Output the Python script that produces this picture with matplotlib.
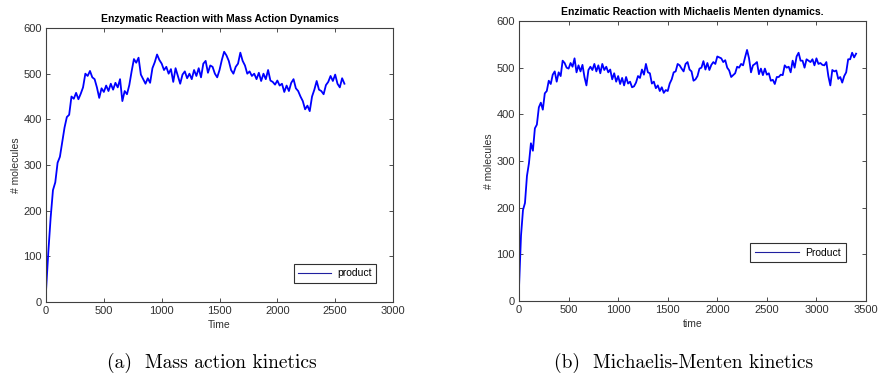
import matplotlib
matplotlib.use("Agg")
from matplotlib import pyplot as plt

# mass action run (time, # product molecules)
t_mass = [0, 20, 40, 60, 80, 100, 120, 140, 160, 180,
          200, 220, 240, 260, 280, 300, 320, 340, 360, 380,
          400, 420, 440, 460, 480, 500, 520, 540, 560, 580,
          600, 620, 640, 660, 680, 700, 720, 740, 760, 780,
          800, 820, 840, 860, 880, 900, 920, 940, 960, 980,
          1000, 1020, 1040, 1060, 1080, 1100, 1120, 1140, 1160, 1180,
          1200, 1220, 1240, 1260, 1280, 1300, 1320, 1340, 1360, 1380,
          1400, 1420, 1440, 1460, 1480, 1500, 1520, 1540, 1560, 1580,
          1600, 1620, 1640, 1660, 1680, 1700, 1720, 1740, 1760, 1780,
          1800, 1820, 1840, 1860, 1880, 1900, 1920, 1940, 1960, 1980,
          2000, 2020, 2040, 2060, 2080, 2100, 2120, 2140, 2160, 2180,
          2200, 2220, 2240, 2260, 2280, 2300, 2320, 2340, 2360, 2380,
          2400, 2420, 2440, 2460, 2480, 2500, 2520, 2540, 2560, 2580]
n_mass = [25, 110, 185, 245, 262, 305, 318, 350, 382, 405,
          410, 450, 445, 458, 444, 456, 470, 500, 495, 506,
          492, 488, 470, 447, 468, 460, 474, 462, 478, 465,
          480, 470, 488, 440, 462, 455, 475, 505, 532, 524,
          535, 498, 488, 478, 490, 480, 512, 525, 542, 530,
          522, 508, 515, 500, 510, 482, 512, 495, 478, 498,
          505, 490, 500, 488, 508, 495, 512, 492, 522, 528,
          502, 518, 515, 500, 492, 508, 530, 548, 540, 528,
          508, 500, 515, 522, 546, 528, 518, 500, 505, 495,
          500, 488, 502, 484, 500, 488, 508, 485, 482, 476,
          485, 474, 478, 460, 474, 462, 480, 488, 468, 462,
          450, 440, 422, 430, 418, 450, 465, 484, 465, 462,
          455, 475, 482, 495, 484, 498, 478, 470, 490, 478]

# michaelis-menten run
t_mm = [0, 20, 40, 60, 80, 100, 120, 140, 160, 180,
        200, 220, 240, 260, 280, 300, 320, 340, 360, 380,
        400, 420, 440, 460, 480, 500, 520, 540, 560, 580,
        600, 620, 640, 660, 680, 700, 720, 740, 760, 780,
        800, 820, 840, 860, 880, 900, 920, 940, 960, 980,
        1000, 1020, 1040, 1060, 1080, 1100, 1120, 1140, 1160, 1180,
        1200, 1220, 1240, 1260, 1280, 1300, 1320, 1340, 1360, 1380,
        1400, 1420, 1440, 1460, 1480, 1500, 1520, 1540, 1560, 1580,
        1600, 1620, 1640, 1660, 1680, 1700, 1720, 1740, 1760, 1780,
        1800, 1820, 1840, 1860, 1880, 1900, 1920, 1940, 1960, 1980,
        2000, 2020, 2040, 2060, 2080, 2100, 2120, 2140, 2160, 2180,
        2200, 2220, 2240, 2260, 2280, 2300, 2320, 2340, 2360, 2380,
        2400, 2420, 2440, 2460, 2480, 2500, 2520, 2540, 2560, 2580,
        2600, 2620, 2640, 2660, 2680, 2700, 2720, 2740, 2760, 2780,
        2800, 2820, 2840, 2860, 2880, 2900, 2920, 2940, 2960, 2980,
        3000, 3020, 3040, 3060, 3080, 3100, 3120, 3140, 3160, 3180,
        3200, 3220, 3240, 3260, 3280, 3300, 3320, 3340, 3360, 3380,
        3400]
n_mm = [30, 140, 195, 210, 268, 295, 338, 322, 370, 378,
        415, 425, 410, 445, 450, 472, 465, 485, 492, 470,
        490, 482, 515, 510, 500, 498, 510, 502, 520, 490,
        505, 492, 506, 480, 462, 495, 502, 495, 508, 492,
        505, 488, 508, 495, 502, 490, 496, 475, 488, 470,
        482, 465, 478, 462, 480, 466, 470, 458, 460, 468,
        482, 478, 496, 485, 508, 490, 488, 466, 470, 456,
        462, 450, 458, 446, 452, 450, 466, 475, 490, 492,
        508, 505, 498, 492, 508, 512, 496, 492, 472, 475,
        482, 498, 500, 514, 496, 510, 495, 506, 512, 508,
        524, 522, 520, 512, 516, 500, 494, 480, 484, 488,
        502, 500, 508, 505, 522, 538, 520, 490, 505, 508,
        512, 486, 498, 484, 498, 485, 488, 472, 474, 465,
        480, 480, 485, 484, 505, 500, 502, 490, 515, 500,
        524, 532, 515, 515, 500, 518, 515, 512, 518, 505,
        520, 508, 510, 506, 505, 512, 482, 462, 495, 492,
        494, 476, 480, 468, 482, 490, 518, 518, 532, 522,
        530]

plt.rcParams['font.family'] = ['Liberation Sans', 'DejaVu Sans']
tick_c = '#303030'

fig = plt.figure(figsize=(8.8, 3.73), dpi=100)
ax1 = fig.add_axes([0.0523, 0.1903, 0.3943, 0.7346])
ax2 = fig.add_axes([0.5898, 0.193, 0.3943, 0.7507])

panels = [
    (ax1, t_mass, n_mass, 3000, 'Enzymatic Reaction with Mass Action Dynamics',
     'Time', 'product', (0.966, 0.05), 3.1),
    (ax2, t_mm, n_mm, 3500, 'Enzimatic Reaction with Michaelis Menten dynamics.',
     'time', 'Product', (0.957, 0.12), 4.3),
]

for ax, t, n, xmax, title, xlab, leg, anchor, hl in panels:
    ax.plot(t, n, color='#0000ff', lw=1.3, label=leg)
    ax.set_xlim(0, xmax)
    ax.set_ylim(0, 600)
    ax.set_yticks(range(0, 601, 100))
    ax.set_title(title, fontsize=7.5, fontweight='bold', pad=4)
    ax.set_xlabel(xlab, fontsize=7.5, color=tick_c, labelpad=3)
    ax.set_ylabel('# molecules', fontsize=7.5, color=tick_c, labelpad=2)
    ax.tick_params(direction='in', length=3, width=0.6, labelsize=8,
                   colors=tick_c, top=True, right=True, pad=3)
    for s in ax.spines.values():
        s.set_color('#404040')
        s.set_linewidth(0.8)
    lg = ax.legend(loc='lower right', bbox_to_anchor=anchor, fontsize=7.5,
                   fancybox=False, framealpha=1, edgecolor='#303030',
                   handlelength=hl, borderpad=0.45, handletextpad=0.6)
    lg.get_frame().set_linewidth(0.8)
    lg.get_lines()[0].set_color('#2020a0')
    lg.get_lines()[0].set_linewidth(0.8)

fig.text(0.241, 0.028, '(a)  Mass action kinetics', family='cmr10',
         fontsize=14, ha='center', va='center')
fig.text(0.777, 0.028, '(b)  Michaelis-Menten kinetics', family='cmr10',
         fontsize=14, ha='center', va='center')

fig.savefig('out.png', dpi=100)
